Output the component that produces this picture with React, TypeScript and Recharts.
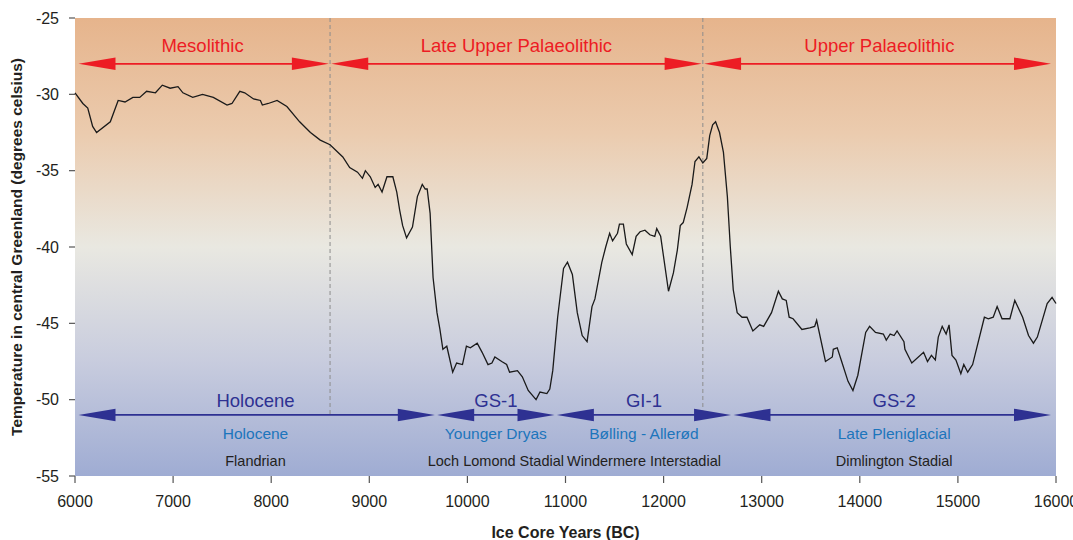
import {
  LineChart,
  Line,
  XAxis,
  YAxis,
  CartesianGrid,
  ReferenceLine,
  Label,
} from "recharts";

// Greenland ice core temperature record
const years = [
  6000, 6080, 6130, 6180, 6220, 6360, 6440, 6510, 6590, 6660, 6730, 6820, 6890,
  6970, 7050, 7100, 7200, 7300, 7410, 7550, 7600, 7680, 7730, 7820, 7890, 7910,
  7970, 8060, 8160, 8290, 8400, 8500, 8600, 8730, 8800, 8880, 8930, 8960, 9010,
  9060, 9090, 9130, 9180, 9240, 9280, 9310, 9340, 9380, 9440, 9490, 9540, 9570,
  9590, 9620, 9650, 9690, 9720, 9750, 9790, 9850, 9890, 9950, 9990, 10030,
  10100, 10150, 10210, 10250, 10280, 10350, 10400, 10430, 10510, 10560, 10620,
  10700, 10740, 10810, 10840, 10870, 10920, 10980, 11020, 11070, 11120, 11170,
  11220, 11270, 11300, 11370, 11410, 11450, 11480, 11530, 11550, 11590, 11620,
  11680, 11720, 11760, 11810, 11860, 11910, 11930, 11970, 12050, 12100, 12140,
  12170, 12200, 12240, 12290, 12320, 12360, 12400, 12440, 12470, 12500, 12530,
  12570, 12610, 12650, 12680, 12710, 12750, 12800, 12850, 12910, 12980, 13020,
  13100, 13170, 13210, 13250, 13280, 13320, 13410, 13490, 13540, 13560, 13650,
  13720, 13730, 13770, 13820, 13880, 13930, 13980, 14060, 14100, 14160, 14240,
  14270, 14310, 14350, 14380, 14450, 14460, 14530, 14650, 14690, 14730, 14770,
  14800, 14840, 14880, 14910, 14940, 14980, 15030, 15060, 15100, 15150, 15270,
  15310, 15360, 15400, 15450, 15530, 15580, 15660, 15720, 15770, 15810, 15910,
  15960, 16000,
];
const temps = [
  -29.9, -30.6, -30.9, -32.1, -32.5, -31.8, -30.4, -30.5, -30.2, -30.2, -29.8,
  -29.9, -29.4, -29.6, -29.5, -29.9, -30.2, -30.0, -30.2, -30.7, -30.6, -29.8,
  -29.9, -30.3, -30.4, -30.7, -30.6, -30.4, -30.8, -31.8, -32.5, -33.0, -33.3,
  -34.1, -34.8, -35.1, -35.5, -35.0, -35.4, -36.1, -35.9, -36.4, -35.4, -35.4,
  -36.4, -37.6, -38.6, -39.4, -38.7, -36.7, -35.9, -36.2, -36.2, -37.8, -42.0,
  -44.3, -45.4, -46.7, -46.5, -48.2, -47.6, -47.7, -46.5, -46.6, -46.3, -46.9,
  -47.7, -47.6, -47.2, -47.5, -47.7, -48.2, -48.1, -48.5, -49.4, -50.0, -49.5,
  -49.6, -49.3, -48.1, -44.6, -41.4, -41.0, -41.8, -44.3, -45.8, -46.2, -43.9,
  -43.4, -41.0, -40.0, -39.1, -39.6, -39.1, -38.5, -38.5, -39.8, -40.5, -39.3,
  -39.0, -38.9, -39.2, -39.3, -38.8, -39.3, -42.9, -41.7, -40.2, -38.6, -38.4,
  -37.4, -35.9, -34.4, -34.1, -34.5, -34.2, -32.7, -32.0, -31.8, -32.5, -33.8,
  -36.7, -40.0, -42.8, -44.3, -44.6, -44.6, -45.5, -45.1, -45.2, -44.3, -42.9,
  -43.4, -43.5, -44.6, -44.7, -45.4, -45.3, -45.2, -44.8, -47.5, -47.2, -46.7,
  -46.6, -47.6, -48.8, -49.4, -48.4, -45.6, -45.2, -45.6, -45.7, -46.1, -45.7,
  -45.8, -45.5, -46.2, -46.7, -47.6, -46.9, -47.5, -47.1, -47.4, -45.9, -45.2,
  -45.7, -45.1, -47.1, -47.4, -48.3, -47.7, -48.2, -47.7, -44.6, -44.7, -44.6,
  -43.9, -44.7, -44.7, -43.5, -44.6, -45.8, -46.3, -45.9, -43.7, -43.3, -43.7,
];

const xTicks = [6000, 7000, 8000, 9000, 10000, 11000, 12000, 13000, 14000, 15000, 16000];
const yTicks = [-55, -50, -45, -40, -35, -30, -25];

// archaeological periods (top, red)
const culturalPeriods = ["Mesolithic", "Late Upper Palaeolithic", "Upper Palaeolithic"];
const culturalBounds = [6000, 8600, 12400, 16000];
const culturalLevel = -28;

// climate stages (bottom, blue)
const stages = ["Holocene", "GS-1", "GI-1", "GS-2"];
const stageNames = ["Holocene", "Younger Dryas", "Bølling - Allerød", "Late Pleniglacial"];
const britishNames = ["Flandrian", "Loch Lomond Stadial", "Windermere Interstadial", "Dimlington Stadial"];
const stageBounds = [6000, 9680, 10900, 12700, 16000];
const stageLevel = -51;

const data = years.map((year, i) => ({ year, temp: temps[i] }));

const FONT = '"Liberation Sans", Arial, Helvetica, sans-serif';
const RED = "#ED1C24";
const BLUE = "#2E3192";
const CYAN = "#1C75BC";
const INK = "#231F20";

function arrowHead(tipX: number, y: number, dir: number, len: number, half: number) {
  const bx = tipX - dir * len;
  return `M${tipX},${y} L${bx},${y - half} L${bx},${y + half} Z`;
}

function DoubleArrow(props: any) {
  const { x1, x2, y1, color, atLeftEdge, atRightEdge, labels } = props;
  const lx = x1 + (atLeftEdge ? 3.5 : 1.2);
  const rx = x2 - (atRightEdge ? 5 : 1.2);
  const cx = (x1 + x2) / 2;
  return (
    <g>
      <line x1={lx + 10} y1={y1} x2={rx - 10} y2={y1} stroke={color} strokeWidth={1.8} />
      <path d={arrowHead(lx, y1, -1, 37, 6.3)} fill={color} />
      <path d={arrowHead(rx, y1, 1, 37, 6.3)} fill={color} />
      {labels.map((l: any, i: number) => (
        <text
          key={i}
          x={cx}
          y={y1 + l.dy}
          textAnchor="middle"
          fontFamily={FONT}
          fontSize={l.size}
          fill={l.color}
        >
          {l.text}
        </text>
      ))}
    </g>
  );
}

export default function App() {
  return (
    <div style={{ position: "absolute", left: 0, top: 0 }}>
      <LineChart
        width={1073}
        height={540}
        data={data}
        margin={{ top: 18, right: 17, bottom: 24, left: 0 }}
      >
        <defs>
          <linearGradient id="bgGrad" x1="0" y1="0" x2="0" y2="1">
            <stop offset="0%" stopColor="#E6B48C" />
            <stop offset="25%" stopColor="#EBCBAE" />
            <stop offset="50%" stopColor="#E9E8E1" />
            <stop offset="75%" stopColor="#C8CCDE" />
            <stop offset="100%" stopColor="#9FACD3" />
          </linearGradient>
        </defs>
        <CartesianGrid
          horizontal={false}
          vertical={false}
          fill="url(#bgGrad)"
          fillOpacity={1}
        />
        <XAxis
          dataKey="year"
          type="number"
          domain={[6000, 16000]}
          ticks={xTicks}
          axisLine={false}
          tickLine={{ stroke: "#555", strokeWidth: 1.2 }}
          tickSize={7}
          tickMargin={13}
          height={40}
          tick={{ fontSize: 16, fill: INK, fontFamily: FONT }}
          interval={0}
        >
          <Label
            value="Ice Core Years (BC)"
            position="bottom"
            offset={11}
            style={{ fontSize: 16, fontWeight: "bold", fill: INK, fontFamily: FONT }}
          />
        </XAxis>
        <YAxis
          type="number"
          domain={[-55, -25]}
          ticks={yTicks}
          width={75}
          axisLine={false}
          tickLine={{ stroke: "#555", strokeWidth: 1.2 }}
          tickSize={6}
          tickMargin={10}
          tick={{ fontSize: 16, fill: INK, fontFamily: FONT }}
          interval={0}
        >
          <Label
            content={(props: any) => {
              const vb = props.viewBox;
              const cx = 16;
              const cy = vb.y + vb.height / 2;
              return (
                <text
                  x={cx}
                  y={cy}
                  transform={`rotate(-90 ${cx} ${cy})`}
                  textAnchor="middle"
                  dominantBaseline="central"
                  fontFamily={FONT}
                  fontSize={15.5}
                  fontWeight="bold"
                  fill={INK}
                >
                  Temperature in central Greenland (degrees celsius)
                </text>
              );
            }}
          />
        </YAxis>

        {culturalBounds.slice(1, -1).map((b) => (
          <ReferenceLine
            key={`d${b}`}
            segment={[
              { x: b, y: -25 },
              { x: b, y: stageLevel },
            ]}
            stroke="#8C8C8C"
            strokeDasharray="4 3"
            strokeWidth={1}
          />
        ))}

        {culturalPeriods.map((name, i) => (
          <ReferenceLine
            key={name}
            segment={[
              { x: culturalBounds[i], y: culturalLevel },
              { x: culturalBounds[i + 1], y: culturalLevel },
            ]}
            shape={(p: any) => (
              <DoubleArrow
                {...p}
                color={RED}
                atLeftEdge={i === 0}
                atRightEdge={i === culturalPeriods.length - 1}
                labels={[{ text: name, dy: -11.6, size: 18.5, color: RED }]}
              />
            )}
          />
        ))}

        {stages.map((name, i) => (
          <ReferenceLine
            key={name}
            segment={[
              { x: stageBounds[i], y: stageLevel },
              { x: stageBounds[i + 1], y: stageLevel },
            ]}
            shape={(p: any) => (
              <DoubleArrow
                {...p}
                color={BLUE}
                atLeftEdge={i === 0}
                atRightEdge={i === stages.length - 1}
                labels={[
                  { text: name, dy: -8, size: 18.5, color: BLUE },
                  { text: stageNames[i], dy: 24, size: 15.5, color: CYAN },
                  { text: britishNames[i], dy: 51, size: 14.5, color: INK },
                ]}
              />
            )}
          />
        ))}

        <Line
          type="linear"
          dataKey="temp"
          stroke="#1A1A1A"
          strokeWidth={1.3}
          dot={false}
          isAnimationActive={false}
        />
      </LineChart>
    </div>
  );
}
